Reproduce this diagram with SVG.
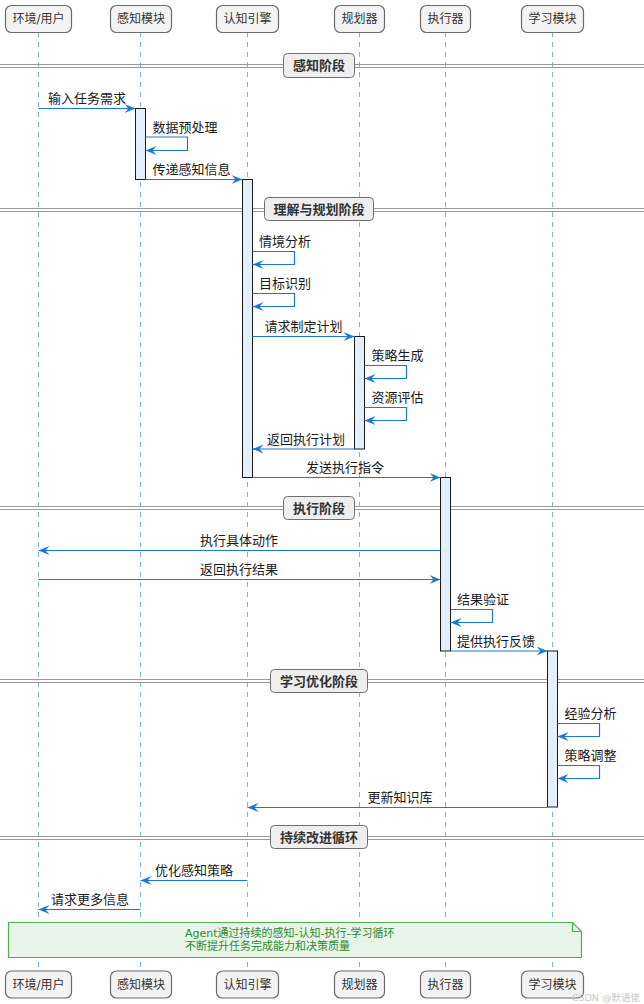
<svg xmlns="http://www.w3.org/2000/svg" width="644" height="1004" viewBox="0 0 644 1004">
<style>
text{font-family:'DejaVu Sans','Noto Sans CJK SC',sans-serif;}
.pbox{fill:#f3f3f3;stroke:#6b6b6b;stroke-width:1.2;}
.ptxt{font-size:12px;fill:#333;text-anchor:middle;}
.life{stroke:#7eb3e6;stroke-width:1;stroke-dasharray:5,5;}
.div{stroke:#9a9a9a;stroke-width:1;}
.dbox{fill:#eeeeee;stroke:#6f6f6f;stroke-width:1;}
.dtxt{font-size:13px;font-weight:bold;fill:#333;text-anchor:middle;}
.act{fill:#e3f0fb;stroke:#1a1a1a;stroke-width:1;}
.msg{stroke:#1e78d2;stroke-width:1.2;fill:none;marker-end:url(#arr);}
.mtxt{font-size:13px;fill:#1a1a1a;}
.note{fill:#e8f4e8;stroke:#4caf50;stroke-width:1.2;}
.ntxt{font-size:11px;fill:#2e8b2e;}
</style>
<defs>
<marker id="arr" markerUnits="userSpaceOnUse" markerWidth="12" markerHeight="10" refX="11" refY="5" orient="auto">
<path d="M0,0.5 L11,5 L0,9.5 L4,5 Z" fill="#1e78d2"/>
</marker>
</defs>
<rect width="644" height="1004" fill="#ffffff"/>

<g id="lifelines">
<line class="life" x1="38.5" y1="32" x2="38.5" y2="971"/>
<line class="life" x1="140.5" y1="32" x2="140.5" y2="971"/>
<line class="life" x1="247.5" y1="32" x2="247.5" y2="971"/>
<line class="life" x1="359.5" y1="32" x2="359.5" y2="971"/>
<line class="life" x1="445.5" y1="32" x2="445.5" y2="971"/>
<line class="life" x1="552.5" y1="32" x2="552.5" y2="971"/>
</g>

<g id="participants-top">
<g id="p-env"><rect class="pbox" x="5.5" y="5.5" width="66" height="27" rx="6"/><text class="ptxt" x="38.5" y="23">环境/用户</text></g>
<g id="p-perc"><rect class="pbox" x="110.5" y="5.5" width="61" height="27" rx="6"/><text class="ptxt" x="141" y="23">感知模块</text></g>
<g id="p-cog"><rect class="pbox" x="216.5" y="5.5" width="62" height="27" rx="6"/><text class="ptxt" x="247.5" y="23">认知引擎</text></g>
<g id="p-plan"><rect class="pbox" x="334.5" y="5.5" width="50" height="27" rx="6"/><text class="ptxt" x="359.5" y="23">规划器</text></g>
<g id="p-exec"><rect class="pbox" x="420.5" y="5.5" width="50" height="27" rx="6"/><text class="ptxt" x="445.5" y="23">执行器</text></g>
<g id="p-learn"><rect class="pbox" x="521.5" y="5.5" width="62" height="27" rx="6"/><text class="ptxt" x="552.5" y="23">学习模块</text></g>
</g>

<g id="participants-bottom">
<g id="pb-env"><rect class="pbox" x="5.5" y="971" width="66" height="27" rx="6"/><text class="ptxt" x="38.5" y="988.5">环境/用户</text></g>
<g id="pb-perc"><rect class="pbox" x="110.5" y="971" width="61" height="27" rx="6"/><text class="ptxt" x="141" y="988.5">感知模块</text></g>
<g id="pb-cog"><rect class="pbox" x="216.5" y="971" width="62" height="27" rx="6"/><text class="ptxt" x="247.5" y="988.5">认知引擎</text></g>
<g id="pb-plan"><rect class="pbox" x="334.5" y="971" width="50" height="27" rx="6"/><text class="ptxt" x="359.5" y="988.5">规划器</text></g>
<g id="pb-exec"><rect class="pbox" x="420.5" y="971" width="50" height="27" rx="6"/><text class="ptxt" x="445.5" y="988.5">执行器</text></g>
<g id="pb-learn"><rect class="pbox" x="521.5" y="971" width="62" height="27" rx="6"/><text class="ptxt" x="552.5" y="988.5">学习模块</text></g>
</g>

<g id="dividers">
<g id="d1"><line class="div" x1="0" y1="64.5" x2="644" y2="64.5"/><line class="div" x1="0" y1="67.5" x2="644" y2="67.5"/><rect class="dbox" x="283.5" y="53.5" width="71" height="24" rx="4"/><text class="dtxt" x="319" y="70">感知阶段</text></g>
<g id="d2"><line class="div" x1="0" y1="208.5" x2="644" y2="208.5"/><line class="div" x1="0" y1="211.5" x2="644" y2="211.5"/><rect class="dbox" x="264.5" y="197.5" width="109" height="23" rx="4"/><text class="dtxt" x="319" y="213.5">理解与规划阶段</text></g>
<g id="d3"><line class="div" x1="0" y1="506.5" x2="644" y2="506.5"/><line class="div" x1="0" y1="509.5" x2="644" y2="509.5"/><rect class="dbox" x="283.5" y="496.5" width="71" height="23" rx="4"/><text class="dtxt" x="319" y="512.5">执行阶段</text></g>
<g id="d4"><line class="div" x1="0" y1="679.5" x2="644" y2="679.5"/><line class="div" x1="0" y1="682.5" x2="644" y2="682.5"/><rect class="dbox" x="270.5" y="669.5" width="97" height="23" rx="4"/><text class="dtxt" x="319" y="685.5">学习优化阶段</text></g>
<g id="d5"><line class="div" x1="0" y1="836.5" x2="644" y2="836.5"/><line class="div" x1="0" y1="839.5" x2="644" y2="839.5"/><rect class="dbox" x="270.5" y="825.5" width="97" height="23" rx="4"/><text class="dtxt" x="319" y="842">持续改进循环</text></g>
</g>

<g id="activations">
<rect class="act" x="135.5" y="108.5" width="10" height="71"/>
<rect class="act" x="242.5" y="179.5" width="10" height="298"/>
<rect class="act" x="354.5" y="336.5" width="10" height="112.5"/>
<rect class="act" x="440.5" y="477.5" width="10" height="173.5"/>
<rect class="act" x="547.5" y="651" width="10" height="156"/>
</g>

<g id="connectors">
<line class="msg" x1="38.5" y1="108.5" x2="135.5" y2="108.5"/>
<polyline class="msg" points="145.5,137 187.5,137 187.5,150.5 145.5,150.5"/>
<line class="msg" x1="145.5" y1="179.5" x2="242.5" y2="179.5"/>
<polyline class="msg" points="252.5,251.5 294.5,251.5 294.5,264.5 252.5,264.5"/>
<polyline class="msg" points="252.5,293.5 294.5,293.5 294.5,306.5 252.5,306.5"/>
<line class="msg" x1="252.5" y1="336.5" x2="354.5" y2="336.5"/>
<polyline class="msg" points="364.5,365.5 406.5,365.5 406.5,378.5 364.5,378.5"/>
<polyline class="msg" points="364.5,407.5 406.5,407.5 406.5,420.5 364.5,420.5"/>
<line class="msg" x1="354.5" y1="449" x2="252.5" y2="449"/>
<line class="msg" x1="252.5" y1="477.5" x2="440.5" y2="477.5"/>
<line class="msg" x1="440.5" y1="550.5" x2="38.5" y2="550.5"/>
<line class="msg" x1="38.5" y1="579.5" x2="440.5" y2="579.5"/>
<polyline class="msg" points="450.5,609.5 492.5,609.5 492.5,622.5 450.5,622.5"/>
<line class="msg" x1="450.5" y1="651" x2="547.5" y2="651"/>
<polyline class="msg" points="557.5,723.5 599.5,723.5 599.5,736.5 557.5,736.5"/>
<polyline class="msg" points="557.5,765.5 599.5,765.5 599.5,778.5 557.5,778.5"/>
<line class="msg" x1="547.5" y1="807.5" x2="247.5" y2="807.5"/>
<line class="msg" x1="247.5" y1="880.5" x2="140.5" y2="880.5"/>
<line class="msg" x1="140.5" y1="909.5" x2="38.5" y2="909.5"/>
</g>

<g id="labels">
<text class="mtxt" x="48" y="102.5">输入任务需求</text>
<text class="mtxt" x="152.5" y="131.5">数据预处理</text>
<text class="mtxt" x="152.5" y="173.5">传递感知信息</text>
<text class="mtxt" x="259" y="246">情境分析</text>
<text class="mtxt" x="259" y="288">目标识别</text>
<text class="mtxt" x="264.5" y="330.5">请求制定计划</text>
<text class="mtxt" x="371.5" y="360">策略生成</text>
<text class="mtxt" x="371.5" y="402">资源评估</text>
<text class="mtxt" x="267" y="443.5">返回执行计划</text>
<text class="mtxt" x="306" y="472">发送执行指令</text>
<text class="mtxt" x="200" y="545">执行具体动作</text>
<text class="mtxt" x="200" y="574">返回执行结果</text>
<text class="mtxt" x="457" y="604">结果验证</text>
<text class="mtxt" x="457" y="645.5">提供执行反馈</text>
<text class="mtxt" x="564.5" y="718">经验分析</text>
<text class="mtxt" x="564.5" y="760">策略调整</text>
<text class="mtxt" x="367.5" y="802">更新知识库</text>
<text class="mtxt" x="155" y="875">优化感知策略</text>
<text class="mtxt" x="51" y="904">请求更多信息</text>
</g>

<g id="note">
<path class="note" d="M8.5,922.5 L572.5,922.5 L581.5,931.5 L581.5,957.5 L8.5,957.5 Z"/>
<path d="M572.5,922.5 L572.5,931.5 L581.5,931.5" fill="none" stroke="#4caf50" stroke-width="1.2"/>
<text class="ntxt" x="185" y="937">Agent通过持续的感知-认知-执行-学习循环</text>
<text class="ntxt" x="185" y="950">不断提升任务完成能力和决策质量</text>
</g>

<text x="640" y="1001" font-size="9.5" fill="#c8c8c8" text-anchor="end">CSDN @默语佬</text>
</svg>
